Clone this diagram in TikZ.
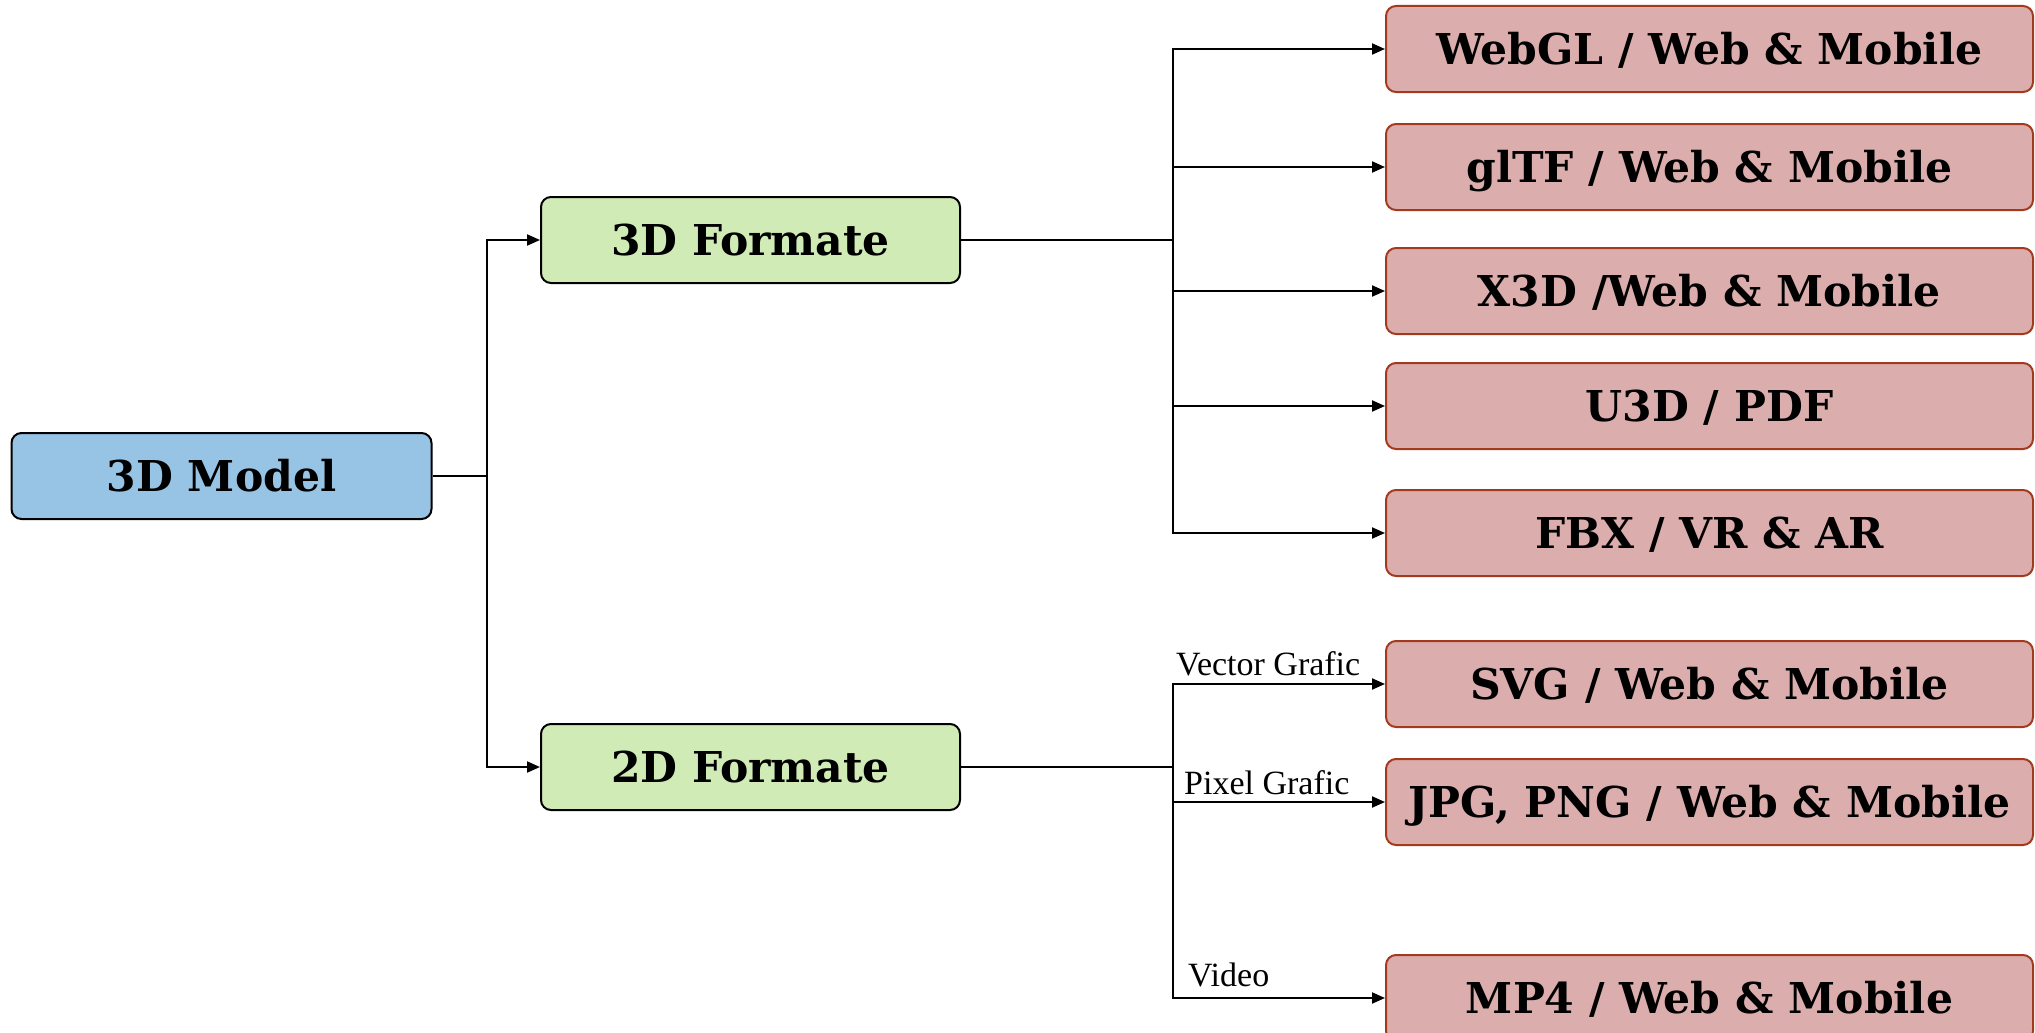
\documentclass[tikz,border=0pt]{standalone}
\usepackage{fontspec}
\usetikzlibrary{arrows.meta}
\newfontfamily\slabfont{DejaVu Serif}
\newfontfamily\labelfont{Liberation Serif}
\definecolor{modelfill}{HTML}{97C3E4}
\definecolor{formatfill}{HTML}{D1EBB7}
\definecolor{targetfill}{HTML}{DCADAD}
\definecolor{targetdraw}{HTML}{A33A1E}
\tikzset{
  box/.style={rectangle, rounded corners=10pt, line width=2pt, draw=black,
    minimum height=86pt, inner sep=0pt, text height=30pt, text depth=0pt,
    font=\slabfont\bfseries\fontsize{42.5}{48}\selectfont},
  modelbox/.style={box, fill=modelfill, minimum width=420pt},
  formatbox/.style={box, fill=formatfill, minimum width=419pt},
  targetbox/.style={box, fill=targetfill, draw=targetdraw, minimum width=647pt},
  wire/.style={line width=2pt, draw=black},
  arr/.style={wire, -{Triangle[length=13pt,width=11pt]}},
  lbl/.style={font=\labelfont\fontsize{34}{38}\selectfont, inner sep=0pt}
}
\begin{document}
\begin{tikzpicture}[x=1pt,y=-1pt]
\useasboundingbox (0,0) rectangle (2035,1033);

% source model and the two format groups
\node[modelbox] (model) at (221.5,476) {3D Model};
\node[formatbox] (f3d) at (750.5,240) {3D Formate};
\node[formatbox] (f2d) at (750.5,767) {2D Formate};

% output targets
\node[targetbox] (webgl) at (1709.5,49)  {WebGL / Web \& Mobile};
\node[targetbox] (gltf)  at (1709.5,167) {glTF / Web \& Mobile};
\node[targetbox] (x3d)   at (1709.5,291) {X3D /Web \& Mobile};
\node[targetbox] (u3d)   at (1709.5,406) {U3D / PDF};
\node[targetbox] (fbx)   at (1709.5,533) {FBX / VR \& AR};
\node[targetbox] (svg)   at (1709.5,684) {SVG / Web \& Mobile};
\node[targetbox] (jpg)   at (1709.5,802) {JPG, PNG / Web \& Mobile};
\node[targetbox] (mp4)   at (1709.5,998) {MP4 / Web \& Mobile};

% branch points
\coordinate (j1) at (486.7,476);
\coordinate (j2) at (1173,240);
\coordinate (j3) at (1173,767);

% model -> format groups
\draw[wire] (model.east) -- (j1);
\draw[arr] (j1) |- (f3d.west);
\draw[arr] (j1) |- (f2d.west);

% 3D formats
\draw[wire] (f3d.east) -- (j2);
\foreach \t in {webgl,gltf,x3d,u3d,fbx}
  \draw[arr] (j2) |- (\t.west);

% 2D formats
\draw[wire] (f2d.east) -- (j3);
\draw[arr] (j3) |- (svg.west);
\draw[arr] (j3) |- (jpg.west);
\draw[arr] (j3) |- (mp4.west);

% branch labels
\node[lbl, anchor=base west] (lvec) at (1176,675) {Vector Grafic};
\node[lbl, anchor=base west] (lpix) at (1184,794) {Pixel Grafic};
\node[lbl, anchor=base west] (lvid) at (1188,986) {Video};
\end{tikzpicture}
\end{document}
